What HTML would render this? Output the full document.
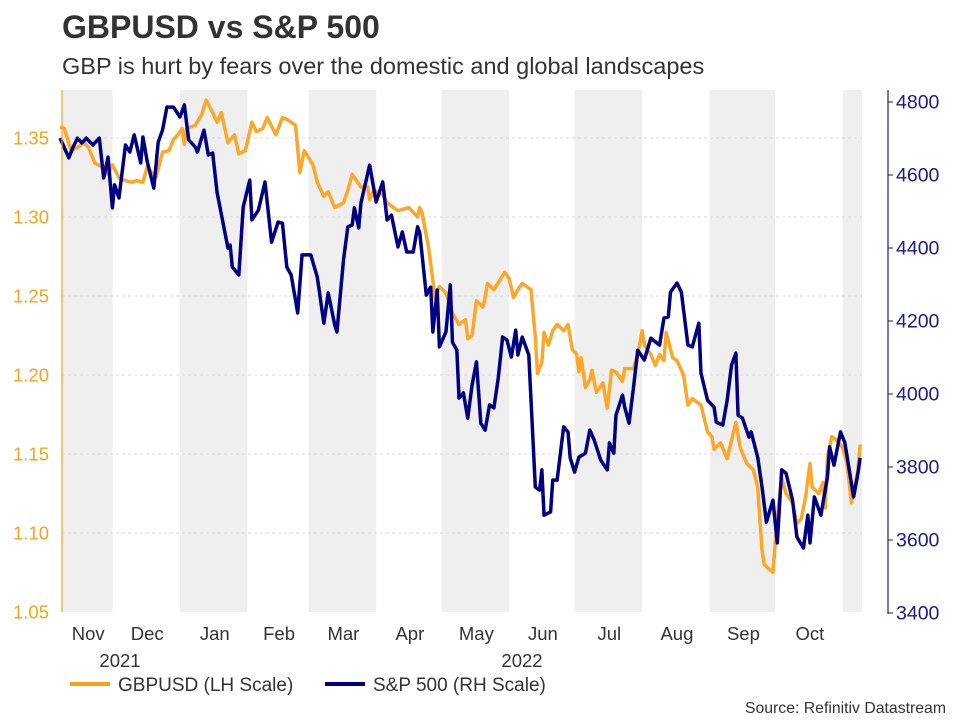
<!DOCTYPE html>
<html><head><meta charset="utf-8"><style>
body{margin:0;background:#fff;width:960px;height:720px;overflow:hidden;font-family:"Liberation Sans",sans-serif}
</style></head><body>
<svg id="chart" width="960" height="720" xmlns="http://www.w3.org/2000/svg" font-family="Liberation Sans, sans-serif">
<text x="62" y="38" font-size="32" font-weight="bold" fill="#333">GBPUSD vs S&amp;P 500</text>
<text x="62" y="74" font-size="23.5" fill="#333">GBP is hurt by fears over the domestic and global landscapes</text>
<g id="bands"></g><g id="grid"></g>
<g id="series"></g>
<line x1="62" y1="90" x2="62" y2="612" stroke="#F7A21B" stroke-width="1.2"/>
<line x1="888" y1="90" x2="888" y2="614" stroke="#1a1a8c" stroke-width="1.2"/>
<g id="ticks"></g>
<text x="120" y="667" font-size="18.5" fill="#333" text-anchor="middle">2021</text>
<text x="522" y="667" font-size="18.5" fill="#333" text-anchor="middle">2022</text>
<g>
<line x1="70" y1="684" x2="110" y2="684" stroke="#F7A21B" stroke-width="4"/>
<text x="118" y="691" font-size="19" fill="#333">GBPUSD (LH Scale)</text>
<line x1="325" y1="684" x2="365" y2="684" stroke="#000080" stroke-width="4"/>
<text x="373" y="691" font-size="19" fill="#333">S&amp;P 500 (RH Scale)</text>
</g>
<text x="946" y="713" font-size="15.8" fill="#333" text-anchor="end">Source: Refinitiv Datastream</text>
</svg>
<script>
// day offsets from 2021-11-01
const gbpDays=[6,8,11,14,17,19,22,25,28,30,33,36,39,41,44,46,48,50,53,56,58,60,62,63,64,68,71,73,76,78,80,83,86,88,91,94,96,99,101,105,108,111,114,116,118,122,124,127,129,132,136,138,140,144,147,148,150,154,156,161,166,170,171,172,175,178,180,183,186,189,192,193,195,197,200,201,202,205,210,212,214,216,218,222,224,225,227,228,230,232,234,237,239,241,243,244,245,247,249,250,252,255,257,259,261,264,265,269,271,273,274,277,279,281,283,284,287,289,292,294,296,300,303,305,306,309,312,313,316,318,321,324,326,328,329,333,335,337,339,342,344,346,348,350,351,354,356,357,358,360,362,365,367,369,372,373];
const gbpValues=[1.357,1.356,1.342,1.344,1.347,1.344,1.334,1.332,1.327,1.333,1.325,1.323,1.322,1.323,1.322,1.332,1.328,1.325,1.341,1.342,1.349,1.352,1.356,1.346,1.356,1.358,1.365,1.374,1.366,1.360,1.366,1.347,1.352,1.340,1.342,1.360,1.354,1.356,1.363,1.352,1.363,1.361,1.358,1.328,1.342,1.333,1.322,1.313,1.316,1.306,1.309,1.317,1.327,1.319,1.319,1.311,1.317,1.314,1.309,1.304,1.306,1.300,1.306,1.303,1.281,1.249,1.256,1.252,1.239,1.232,1.235,1.223,1.225,1.247,1.243,1.249,1.258,1.254,1.265,1.261,1.249,1.254,1.258,1.254,1.224,1.201,1.208,1.227,1.219,1.228,1.232,1.228,1.232,1.216,1.213,1.202,1.211,1.192,1.197,1.203,1.189,1.195,1.179,1.203,1.202,1.196,1.204,1.204,1.213,1.228,1.219,1.213,1.206,1.213,1.209,1.227,1.211,1.209,1.200,1.181,1.185,1.181,1.164,1.161,1.153,1.157,1.147,1.153,1.170,1.154,1.144,1.140,1.129,1.089,1.080,1.075,1.110,1.135,1.125,1.119,1.106,1.109,1.123,1.144,1.129,1.125,1.132,1.116,1.148,1.161,1.159,1.154,1.144,1.119,1.140,1.156];
const spxDays=[6,10,12,14,16,18,21,24,26,28,30,31,33,36,38,40,43,44,46,49,51,53,55,58,61,63,65,68,69,72,74,76,78,83,84,85,88,90,93,94,97,100,103,106,108,110,112,115,117,121,124,127,129,132,133,136,138,140,141,143,144,148,151,154,156,158,161,163,165,168,170,171,174,176,177,179,180,183,185,186,188,189,191,193,195,197,199,201,203,205,207,209,211,213,215,216,218,221,224,226,227,228,231,232,234,237,239,240,242,244,247,249,251,254,257,258,260,261,264,265,267,269,271,274,277,281,283,285,286,289,291,294,296,299,300,303,306,307,310,312,314,316,317,319,322,323,326,328,330,333,335,337,339,342,344,347,349,350,352,355,358,359,361,364,366,368,370,372,373];
const spxValues=[4701,4647,4677,4701,4688,4701,4682,4701,4592,4649,4510,4573,4537,4682,4663,4710,4633,4704,4636,4564,4690,4723,4786,4786,4759,4792,4696,4677,4663,4723,4655,4660,4553,4400,4408,4348,4326,4512,4586,4477,4504,4581,4416,4471,4468,4348,4326,4222,4381,4381,4320,4194,4277,4189,4170,4367,4458,4463,4510,4455,4523,4627,4526,4581,4477,4490,4403,4444,4389,4389,4458,4441,4271,4293,4170,4285,4129,4170,4299,4142,4120,3989,4003,3934,4025,4088,3920,3901,3970,3962,4044,4156,4148,4101,4175,4107,4156,4107,3745,3737,3792,3668,3677,3764,3764,3910,3896,3825,3786,3827,3838,3901,3874,3819,3792,3866,3838,3942,3997,3964,3920,4016,4120,4093,4153,4134,4208,4211,4279,4304,4279,4134,4129,4194,4057,3983,3964,3923,3915,3983,4079,4112,3942,3934,3882,3896,3827,3745,3649,3709,3592,3792,3783,3709,3608,3578,3668,3592,3718,3668,3772,3855,3805,3896,3866,3792,3718,3783,3825];
const leftTicks=[1.05,1.10,1.15,1.20,1.25,1.30,1.35];
const rightTicks=[3400,3600,3800,4000,4200,4400,4600,4800];
const monthLabels=["Nov","Dec","Jan","Feb","Mar","Apr","May","Jun","Jul","Aug","Sep","Oct"];
const monthStarts=[0,30,61,92,120,151,181,212,242,273,304,334,365];

const NS="http://www.w3.org/2000/svg";
const X0=62,X1=862;
function xs(d){return 47+d*2.18;}
function yl(v){return 138+(1.35-v)/0.05*79;}
function yr(v){return 102+(4800-v)/200*73;}
function mk(tag,attrs,parent){const e=document.createElementNS(NS,tag);for(const k in attrs)e.setAttribute(k,attrs[k]);document.getElementById(parent).appendChild(e);return e;}

for(let i=0;i<monthStarts.length;i+=2){
  const a=Math.max(X0,xs(monthStarts[i]));const b=Math.min(X1,xs(monthStarts[i+1]||374));
  const r=mk('rect',{x:a,y:90,width:b-a,height:522,fill:'#efefef'},'bands');
  
  
}
leftTicks.forEach(v=>{
  const y=yl(v);
  if(v<1.351&&v>1.051){const g=mk('line',{x1:X0,x2:X1,y1:y,y2:y,stroke:'#d8d8d8','stroke-dasharray':'3,3','stroke-width':1},'grid');
  
  }
  const t=mk('text',{x:49,y:y+6.5,'font-size':18.5,fill:'#F7A21B','text-anchor':'end'},'ticks');t.textContent=v.toFixed(2);
  
  
});
rightTicks.forEach(v=>{
  const y=yr(v);
  const l=mk('line',{x1:888,x2:893,y1:y,y2:y,stroke:'#1a1a8c'},'ticks');
  
  
  const t=mk('text',{x:896,y:y+6.5,'font-size':19.5,fill:'#1a1a8c'},'ticks');t.textContent=v;
  
  
});
monthLabels.forEach((m,i)=>{
  const c=(Math.max(X0,xs(monthStarts[i]))+xs(monthStarts[i+1]))/2+1;
  const t=mk('text',{x:c,y:640,'font-size':18.5,fill:'#333','text-anchor':'middle'},'ticks');t.textContent=m;
  
  
});
const gp=mk('polyline',{points:gbpDays.map((d,i)=>xs(d)+','+yl(gbpValues[i])).join(' '),fill:'none',stroke:'#FBA72A','stroke-width':3.5,'stroke-linejoin':'round'},'series');


const sp=mk('polyline',{points:spxDays.map((d,i)=>xs(d)+','+yr(spxValues[i])).join(' '),fill:'none',stroke:'#000080','stroke-width':3.5,'stroke-linejoin':'round'},'series');


</script>
</body></html>
